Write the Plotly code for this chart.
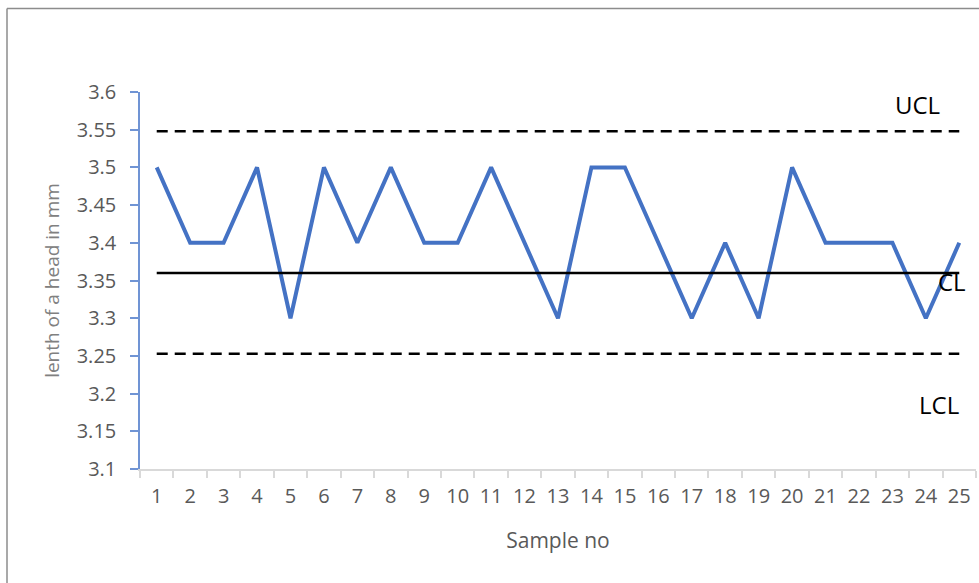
import plotly.graph_objects as go

samples = [str(i) for i in range(1, 26)]
lengths = [3.5, 3.4, 3.4, 3.5, 3.3, 3.5, 3.4, 3.5, 3.4, 3.4, 3.5, 3.4, 3.3,
           3.5, 3.5, 3.4, 3.3, 3.4, 3.3, 3.5, 3.4, 3.4, 3.4, 3.3, 3.4]
ucl_value = 3.548
cl_value = 3.36
lcl_value = 3.253
y_tick_vals = [3.1, 3.15, 3.2, 3.25, 3.3, 3.35, 3.4, 3.45, 3.5, 3.55, 3.6]
y_tick_text = ["3.1", "3.15", "3.2", "3.25", "3.3", "3.35", "3.4", "3.45", "3.5", "3.55", "3.6"]

W, H = 979, 583
L, R, T, B = 140, 3, 92, 114
pw, ph = W - L - R, H - T - B

fig = go.Figure()
fig.add_trace(go.Scatter(x=samples, y=lengths, mode="lines",
                         line=dict(color="#4472C4", width=4), showlegend=False))
fig.add_trace(go.Scatter(x=samples, y=[ucl_value] * len(samples), mode="lines",
                         line=dict(color="black", width=2.5, dash="11px,7px"), showlegend=False))
fig.add_trace(go.Scatter(x=samples, y=[cl_value] * len(samples), mode="lines",
                         line=dict(color="black", width=2.5), showlegend=False))
fig.add_trace(go.Scatter(x=samples, y=[lcl_value] * len(samples), mode="lines",
                         line=dict(color="black", width=2.5, dash="11px,7px"), showlegend=False))

lab_font = dict(family="Open Sans", size=24, color="black")
fig.add_annotation(x=(917 - L) / pw, xref="paper", y=3.584, yref="y", text="UCL",
                   showarrow=False, font=lab_font, xanchor="center", yanchor="middle")
fig.add_annotation(x=(952 - L) / pw, xref="paper", y=3.349, yref="y", text="CL",
                   showarrow=False, font=lab_font, xanchor="center", yanchor="middle")
fig.add_annotation(x=(939 - L) / pw, xref="paper", y=3.186, yref="y", text="LCL",
                   showarrow=False, font=lab_font, xanchor="center", yanchor="middle")

# chart border (top and left edges visible)
bx0 = (7 - L) / pw
by1 = 1 + (T - 8.5) / ph
fig.add_shape(type="line", xref="paper", yref="paper", x0=bx0, x1=1.1, y0=by1, y1=by1,
              line=dict(color="#8c8c8c", width=1.5))
fig.add_shape(type="line", xref="paper", yref="paper", x0=bx0, x1=bx0, y0=by1, y1=-0.5,
              line=dict(color="#8c8c8c", width=1.5))

fig.update_layout(
    width=W, height=H,
    margin=dict(l=L, r=R, t=T, b=B),
    paper_bgcolor="white", plot_bgcolor="white",
    font=dict(family="Open Sans", color="#595959"),
    xaxis=dict(type="category", range=[-0.5, len(samples) - 0.5],
               tickson="boundaries", ticks="outside", ticklen=7,
               tickcolor="#d9d9d9", tickwidth=2, showline=True, linecolor="#d9d9d9",
               linewidth=2, showgrid=False, zeroline=False,
               tickfont=dict(size=20, color="#595959"), ticklabelstandoff=8,
               title=dict(text="Sample no", font=dict(size=21, color="#595959"), standoff=25)),
    yaxis=dict(range=[3.1, 3.6], tickvals=y_tick_vals, ticktext=y_tick_text,
               ticks="outside", ticklen=8, tickcolor="#7094d4", tickwidth=1.5,
               showline=True, linecolor="#7094d4", linewidth=1.5,
               showgrid=False, zeroline=False,
               tickfont=dict(size=20, color="#595959"), ticklabelstandoff=10,
               title=dict(text="lenth of a head in mm", font=dict(size=19, color="#808080"),
                          standoff=12)),
)

fig.write_html("out.html", config={"displayModeBar": False},
               post_script="document.body.style.margin='0px';document.body.style.overflow='hidden';")
